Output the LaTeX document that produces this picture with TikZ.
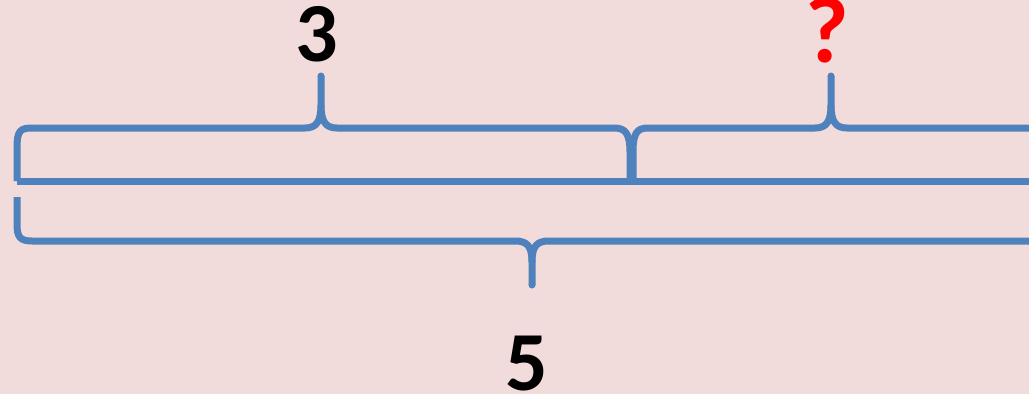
\documentclass[tikz,border=0pt]{standalone}
\usepackage{fontspec}
\setmainfont{Carlito}
\definecolor{bg}{HTML}{F2DBDB}
\definecolor{braceblue}{HTML}{4F81BD}
\definecolor{qred}{HTML}{FF0000}
\begin{document}
\begin{tikzpicture}[x=1pt,y=-1pt,
  brace/.style={draw=braceblue,line width=7pt,line join=round},
  tipdot/.style={fill=braceblue},
  numlabel/.style={font=\fontsize{84}{84}\selectfont\bfseries,anchor=base,inner sep=0pt}]
\fill[bg] (0,0) rectangle (1029,394);
\useasboundingbox (0,0) rectangle (1029,394);
\clip (0,0) rectangle (1029,394);
% top left brace
\draw[brace] (17,181) -- (17,148) .. controls (17,131) and (20,128) .. (32,128)
  -- (305,128) .. controls (316,128) and (321,122) .. (321,105) -- (321,76);
\draw[brace] (321,105) .. controls (321,122) and (326,128) .. (337,128)
  -- (614,128) .. controls (625,128) and (630,133) .. (630,152) -- (630,181);
\fill[tipdot] (321,76) circle (3.5);
% top right brace
\draw[brace] (633,181) -- (633,152) .. controls (633,133) and (637,128) .. (648,128)
  -- (815,128) .. controls (826,128) and (831,122) .. (831,105) -- (831,76);
\draw[brace] (831,105) .. controls (831,122) and (836,128) .. (847,128) -- (1040,128);
\fill[tipdot] (831,76) circle (3.5);
% middle line
\draw[brace] (17,181) -- (1040,181);
% bottom brace
\draw[brace] (17,197) -- (17,224) .. controls (17,237) and (20,241) .. (32,241)
  -- (515,241) .. controls (527,241) and (532,246) .. (532,262) -- (532,285);
\draw[brace] (532,262) .. controls (532,246) and (537,241) .. (549,241) -- (1040,241);
\fill[tipdot] (532,285) circle (3.5);
% labels
\node[numlabel] (three) at (317,61) {3};
\node[numlabel,text=qred,font=\fontsize{94}{94}\selectfont\bfseries] (q) at (827,62) {?};
\node[numlabel] (five) at (527,390) {5};
\end{tikzpicture}
\end{document}
